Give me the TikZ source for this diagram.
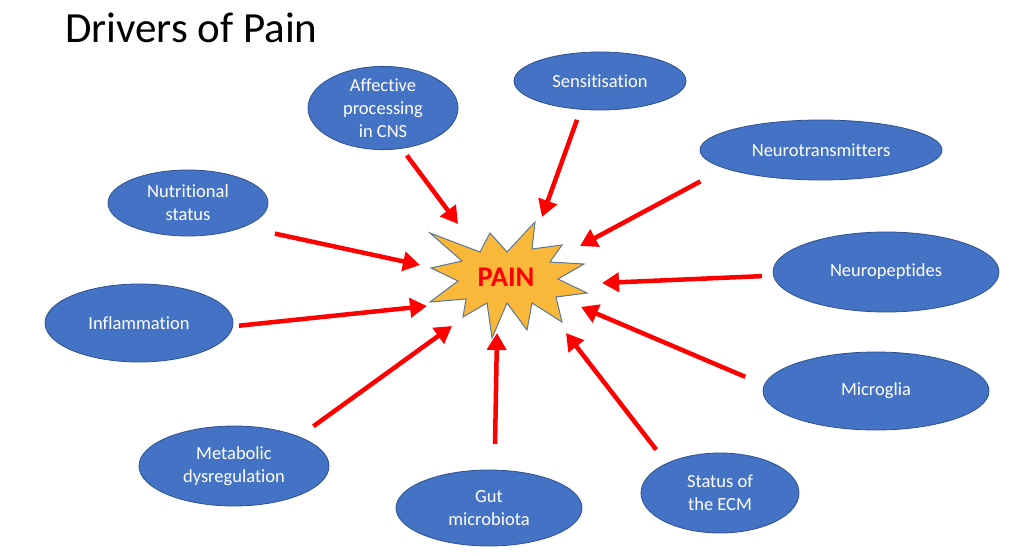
\documentclass[tikz,border=0pt]{standalone}
\usepackage{fontspec}
\setmainfont{Carlito}[Ligatures=NoCommon]
\usetikzlibrary{shapes.geometric,arrows.meta}
\definecolor{ellfill}{HTML}{4472C4}
\definecolor{elldraw}{HTML}{2F528F}
\definecolor{starfill}{HTML}{F9B83A}
\definecolor{stardraw}{HTML}{5A7896}
\definecolor{arrred}{HTML}{FF0000}
\tikzset{
  drv/.style={ellipse, draw=elldraw, line width=0.8pt, fill=ellfill, text=white,
    inner sep=0pt, align=center, font=\fontsize{18.5}{23}\selectfont},
  arr/.style={draw=arrred, line width=4.5pt, -{Triangle[length=17pt,width=19pt]}, shorten <=3pt}
}
\begin{document}
\begin{tikzpicture}[x=1pt,y=-1pt]
\useasboundingbox[fill=white] (0,0) rectangle (1024,556);
\node[anchor=west, font=\fontsize{43}{48}\selectfont, inner sep=0pt] (title) at (65,28) {Drivers of Pain};
% star
\draw[fill=starfill, draw=stardraw, line width=1pt]
  (430,233) -- (480,252) -- (490,233) -- (507,252) -- (535,222) -- (532,249)
  -- (562,245) -- (550,262) -- (584,264) -- (558,279) -- (587,293) -- (556,297)
  -- (562,322) -- (532,303) -- (527,330) -- (507,303) -- (492,338) -- (487,303)
  -- (463,317) -- (466,299) -- (430,302) -- (458,281) -- (431,268) -- (462,261) -- cycle;
\node[font=\fontsize{28.5}{30}\bfseries, text=arrred, inner sep=0pt] (pain) at (506,277) {PAIN};
% drivers
\node[drv, minimum width=150pt, minimum height=82pt] (aff) at (383,108) {Affective\\processing\\in CNS};
\node[drv, minimum width=172pt, minimum height=58pt] (sen) at (600,81) {Sensitisation};
\node[drv, minimum width=242pt, minimum height=60pt] (ntr) at (821,150) {Neurotransmitters};
\node[drv, minimum width=226pt, minimum height=80pt] (npe) at (886,272) {Neuropeptides};
\node[drv, minimum width=226pt, minimum height=78pt] (mic) at (876,391) {Microglia};
\node[drv, minimum width=158pt, minimum height=80pt] (ecm) at (720,493) {Status of\\the ECM};
\node[drv, minimum width=186pt, minimum height=76pt] (gut) at (489,508) {Gut\\microbiota};
\node[drv, minimum width=190pt, minimum height=80pt] (met) at (234,466) {Metabolic\\dysregulation};
\node[drv, minimum width=188pt, minimum height=78pt] (inf) at (139,323) {Inflammation};
\node[drv, minimum width=160pt, minimum height=66pt] (nut) at (188,203) {Nutritional\\status};
% arrow heads
\coordinate (h1) at (458,224);
\coordinate (h2) at (542,217);
\coordinate (h3) at (580,246);
\coordinate (h4) at (602,283);
\coordinate (h5) at (581,307);
\coordinate (h6) at (566,333);
\coordinate (h7) at (497,333);
\coordinate (h8) at (452,326);
\coordinate (h9) at (427,306);
\coordinate (h10) at (420,265);
% tails
\coordinate (t1) at (405,153);
\coordinate (t2) at (578,117);
\coordinate (t3) at (703,180);
\coordinate (t4) at (765,276);
\coordinate (t5) at (748,378);
\coordinate (t6) at (658,452);
\coordinate (t7) at (495,447);
\coordinate (t8) at (311,428);
\coordinate (t9) at (236,326);
\coordinate (t10) at (272,233);
\foreach \i in {1,...,10} { \draw[arr] (t\i) -- (h\i); }
\end{tikzpicture}
\end{document}
